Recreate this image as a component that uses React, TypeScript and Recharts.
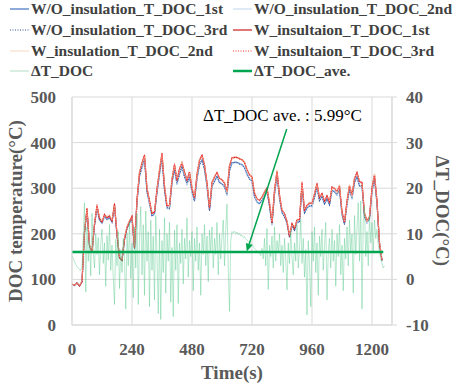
import React from 'react'
import { LineChart, Line, XAxis, YAxis, CartesianGrid, Legend, ReferenceLine } from 'recharts'

// temperature runs, one value every 10 s from t = 0 to 1240 s
const woRun1 = [
  90, 87, 92, 86, 95, 203, 251, 174, 160, 219,
  257, 231, 223, 238, 232, 236, 225, 260, 198, 148,
  142, 188, 212, 225, 234, 169, 270, 327, 346, 362,
  293, 266, 240, 243, 291, 331, 366, 297, 256, 256,
  312, 342, 309, 332, 346, 326, 309, 326, 292, 273,
  321, 352, 361, 342, 304, 252, 304, 316, 325, 313,
  309, 304, 285, 339, 355, 357, 356, 354, 351, 346,
  330, 321, 315, 282, 269, 267, 272, 284, 292, 261,
  220, 287, 328, 278, 246, 238, 223, 193, 218, 208,
  225, 227, 303, 246, 256, 262, 260, 281, 302, 273,
  281, 266, 276, 264, 294, 293, 285, 298, 242, 222,
  265, 298, 277, 313, 324, 306, 304, 239, 224, 234,
  293, 321, 266, 178, 141,
]
const woRun2 = [
  91, 86, 91, 87, 96, 205, 249, 176, 158, 221,
  255, 233, 222, 236, 234, 238, 224, 258, 200, 149,
  143, 190, 213, 227, 232, 171, 268, 329, 344, 360,
  295, 264, 242, 241, 293, 329, 364, 299, 254, 258,
  310, 344, 307, 334, 344, 328, 307, 328, 290, 275,
  319, 354, 359, 344, 302, 254, 302, 318, 323, 315,
  307, 306, 283, 341, 353, 359, 354, 356, 349, 348,
  328, 323, 313, 284, 267, 269, 270, 286, 290, 263,
  218, 289, 326, 280, 244, 240, 221, 195, 216, 210,
  223, 229, 301, 248, 254, 264, 258, 283, 300, 275,
  279, 268, 274, 266, 292, 295, 283, 300, 240, 224,
  263, 300, 275, 315, 322, 308, 302, 241, 222, 236,
  291, 323, 264, 180, 140,
]
const woRun3 = [
  89, 88, 93, 85, 94, 201, 253, 172, 161, 217,
  259, 229, 224, 240, 230, 234, 226, 262, 196, 147,
  141, 186, 211, 223, 236, 167, 272, 325, 348, 364,
  291, 268, 238, 245, 289, 333, 368, 295, 258, 254,
  314, 340, 311, 330, 348, 324, 311, 324, 294, 271,
  323, 350, 363, 340, 306, 250, 306, 314, 327, 311,
  311, 302, 287, 337, 357, 355, 358, 352, 353, 344,
  332, 319, 317, 280, 271, 265, 274, 282, 294, 259,
  222, 285, 330, 276, 248, 236, 225, 191, 220, 206,
  227, 225, 305, 244, 258, 260, 262, 279, 304, 271,
  283, 264, 278, 262, 296, 291, 287, 296, 244, 220,
  267, 296, 279, 311, 326, 304, 306, 237, 226, 232,
  295, 319, 268, 176, 142,
]
const wRun1 = [
  90, 87, 92, 86, 95, 205, 255, 175, 160, 222,
  262, 235, 226, 242, 236, 240, 228, 265, 200, 148,
  142, 190, 215, 228, 238, 170, 275, 335, 355, 372,
  300, 272, 245, 248, 298, 340, 376, 305, 262, 262,
  320, 352, 318, 342, 356, 335, 318, 335, 300, 280,
  330, 362, 372, 352, 312, 258, 312, 325, 334, 322,
  318, 312, 292, 350, 366, 368, 367, 365, 362, 357,
  340, 330, 324, 290, 276, 274, 280, 292, 300, 268,
  225, 295, 338, 285, 252, 244, 228, 196, 222, 212,
  230, 232, 312, 252, 262, 268, 266, 288, 310, 280,
  288, 272, 283, 270, 302, 300, 292, 306, 248, 226,
  272, 306, 284, 322, 334, 315, 312, 245, 228, 238,
  300, 330, 272, 180, 142,
]
const wRun2 = [
  91, 88, 91, 87, 97, 208, 253, 178, 158, 224,
  260, 237, 228, 240, 238, 242, 230, 263, 203, 150,
  144, 192, 216, 230, 236, 173, 272, 337, 353, 370,
  303, 270, 247, 250, 296, 342, 374, 308, 264, 260,
  322, 350, 320, 340, 358, 333, 320, 333, 302, 282,
  328, 364, 370, 354, 310, 260, 310, 327, 332, 324,
  316, 314, 290, 352, 364, 370, 365, 367, 360, 359,
  338, 332, 322, 292, 274, 276, 278, 294, 298, 270,
  228, 293, 340, 283, 254, 242, 230, 198, 220, 214,
  228, 234, 310, 254, 260, 270, 264, 290, 308, 282,
  286, 274, 281, 272, 300, 302, 290, 308, 246, 228,
  270, 308, 282, 324, 332, 317, 310, 247, 226, 240,
  298, 332, 270, 182, 144,
]
const wRun3 = [
  89, 88, 93, 85, 94, 202, 257, 173, 162, 220,
  264, 233, 225, 244, 234, 238, 227, 267, 198, 146,
  141, 188, 213, 226, 240, 168, 277, 333, 357, 374,
  298, 274, 243, 247, 300, 338, 378, 303, 260, 264,
  318, 354, 316, 344, 354, 337, 316, 337, 298, 278,
  332, 360, 374, 350, 314, 256, 314, 323, 336, 320,
  320, 310, 294, 348, 368, 366, 369, 363, 364, 355,
  342, 328, 326, 288, 278, 272, 282, 290, 302, 266,
  223, 297, 336, 287, 250, 246, 226, 194, 224, 210,
  232, 230, 314, 250, 264, 266, 268, 286, 312, 278,
  290, 270, 285, 268, 304, 298, 294, 304, 250, 224,
  274, 304, 286, 320, 336, 313, 314, 243, 230, 236,
  302, 328, 274, 178, 140,
]

// ΔT_DOC, one value every 5 s from t = 0 to 1250 s
const dtDoc = [
  5.2, 4.6, 3.9, 3.3, 2.8, 2.5, 2.2, 2.0, 2.8, 9.5, 16.8, -2.8, 11.5, 4.0, 8.5, 0.8, 14.5, 6.0, 2.5, 10.0,
  5.5, 9.2, 1.0, 7.8, 11.0, 3.5, 8.0, -1.5, 9.6, 4.2, 12.0, 2.0, 7.5, 0.5, -5.5, 8.8, 3.0, 10.5, -2.0, 6.5,
  1.5, 9.0, 4.5, -6.5, 10.2, 3.0, 12.5, 0.2, 8.0, -4.0, 11.5, 2.5, 14.5, -5.5, 9.0, 16.0, 1.0, 12.0, -3.5, 15.0,
  4.0, 10.5, -6.0, 13.0, 2.0, 9.5, -4.5, 14.0, 5.0, -7.5, 11.0, -8.8, 8.5, 1.5, 13.5, -3.0, 10.0, 4.0, 12.5, -5.0,
  7.0, -8.2, 10.8, 2.0, 12.0, -5.3, 8.0, 3.5, 11.0, -1.0, 9.0, 4.5, 13.5, 0.5, 8.5, 5.0, 10.5, -2.5, 9.0, 4.0,
  11.5, 2.0, 8.0, -3.5, 10.0, 5.5, 12.0, 3.0, 9.5, -0.5, 10.8, 6.0, 11.5, 2.5, 9.0, 5.5, 12.5, 1.0, 10.0, 4.5,
  9.5, 13.0, 3.0, 11.0, 16.5, 2.0, -7.0, 8.5, 10.5, 10.2, 10.6, 10.0, 10.4, 9.8, 10.1, 9.5, 9.7, 9.2, 9.4, 8.9,
  8.6, 8.3, 8.0, 7.6, 7.8, 7.2, 6.8, 6.5, 6.2, 6.0, 5.6, 5.2, 6.8, 4.5, 9.0, 3.0, 11.2, -2.2, 7.5, 5.0,
  9.5, 2.5, 11.5, 4.0, 8.5, 6.0, 10.0, 3.0, 7.5, 1.5, 9.0, 4.5, -2.3, 8.0, 3.5, 10.5, 5.0, 1.0, 8.0, 4.0,
  12.0, 2.5, 7.0, 13.0, 3.5, 9.0, 0.5, 6.5, -7.8, 8.5, 3.0, -6.0, 10.5, 4.0, 11.5, 1.5, 8.0, -3.5, 9.5, 5.0,
  11.0, 2.0, 7.5, 12.5, -4.5, 6.0, 9.0, 2.5, 11.0, 4.0, 8.5, -1.5, 10.0, 5.0, 12.0, 1.0, 7.5, -2.5, 9.0, 4.5,
  11.5, 3.0, 13.0, 6.0, 10.0, -3.0, 14.0, 5.5, 11.0, 16.8, 4.0, 17.2, -6.5, 12.5, 16.0, 5.0, 10.5, 3.0, 14.0, 8.0,
  12.5, 6.0, 13.0, 9.0, 11.0, 7.5, 6.0, 4.5, 3.5, 2.5, 3.0,
]
const dtAve = 5.99
const aveSpan = [0, 1245]

const timeTicks = [0, 240, 480, 720, 960, 1200]
const tempTicks = [0, 100, 200, 300, 400, 500]
const dtTicks = [-10, 0, 10, 20, 30, 40]

// arrow from the note down to the average line (time, temperature axis)
const arrowFrom = { t: 859, v: 430 }
const arrowTo = { t: 699, v: 161 }

const tempRows = wRun1.map((v, i) => ({
  t: i * 10,
  wo1: woRun1[i],
  wo2: woRun2[i],
  wo3: woRun3[i],
  w1: v,
  w2: wRun2[i],
  w3: wRun3[i],
}))
const dtRows = dtDoc.map((v, i) => ({ t: i * 5, dt: v }))
const aveRows = aveSpan.map((t) => ({ t, ave: dtAve }))

const serif = '"Liberation Serif", "Times New Roman", serif'
const grey = '#595959'
const gridColor = '#D9D9D9'
const green = '#00A550'

const tempSeries = [
  { key: 'wo1', name: 'W/O_insulation_T_DOC_1st', color: '#4472C4', width: 1.2 },
  { key: 'wo2', name: 'W/O_insulation_T_DOC_2nd', color: '#BDD7EE', width: 1 },
  { key: 'wo3', name: 'W/O_insulation_T_DOC_3rd', color: '#2F5597', width: 1, dash: '1 1.5' },
  { key: 'w1', name: 'W_insultaion_T_DOC_1st', color: '#C8201E', width: 1.2 },
  { key: 'w2', name: 'W_insulation_T_DOC_2nd', color: '#F8CBAD', width: 0.8 },
  { key: 'w3', name: 'W_insultaion_T_DOC_3rd', color: '#FF3030', width: 1, dash: '1 1.5' },
]

const legendItems = [
  ...tempSeries,
  { key: 'dt', name: 'ΔT_DOC', color: '#BFE3D0', width: 1.2 },
  { key: 'ave', name: 'ΔT_DOC_ave.', color: green, width: 2.5 },
]

const tickStyle = { fill: grey, fontSize: 17, fontWeight: 'bold', fontFamily: serif }

function renderLegend() {
  return (
    <div style={{ position: 'relative', width: 457, height: 84, fontFamily: serif, fontWeight: 'bold', fontSize: 15.5, color: '#404040' }}>
      {legendItems.map((it: any, i) => {
        const col = i % 2
        const row = Math.floor(i / 2)
        return (
          <div
            key={it.key}
            style={{ position: 'absolute', left: col ? 233 : 10, top: row * 20.8 - 1, height: 20, display: 'flex', alignItems: 'center', whiteSpace: 'nowrap' }}
          >
            <svg width={19} height={6}>
              <line x1={0} y1={3} x2={19} y2={3} stroke={it.color} strokeWidth={it.width} strokeDasharray={it.dash} />
            </svg>
            <span style={{ marginLeft: 2 }}>{it.name}</span>
          </div>
        )
      })}
    </div>
  )
}

function ArrowShape(props: any) {
  const { x1, y1, x2, y2 } = props
  const ang = Math.atan2(y2 - y1, x2 - x1)
  const len = 8
  const half = 3.5
  const bx = x2 - len * Math.cos(ang)
  const by = y2 - len * Math.sin(ang)
  const px = -Math.sin(ang) * half
  const py = Math.cos(ang) * half
  return (
    <g>
      <line x1={x1} y1={y1} x2={bx} y2={by} stroke={green} strokeWidth={1.5} />
      <polygon points={`${x2},${y2} ${bx + px},${by + py} ${bx - px},${by - py}`} fill={green} />
    </g>
  )
}

const leftTitle = (props: any) => {
  const { x, y, height } = props.viewBox
  const cx = x + 3
  const cy = y + height / 2
  return (
    <text x={cx} y={cy} transform={`rotate(-90 ${cx} ${cy})`} textAnchor="middle" dominantBaseline="central" fill={grey} fontSize={19} fontWeight="bold" fontFamily={serif}>
      DOC temperature(°C)
    </text>
  )
}

const rightTitle = (props: any) => {
  const { x, y, height } = props.viewBox
  const cx = x + 50
  const cy = y + height / 2
  return (
    <text x={cx} y={cy} transform={`rotate(90 ${cx} ${cy})`} textAnchor="middle" dominantBaseline="central" fill={grey} fontSize={19} fontWeight="bold" fontFamily={serif}>
      ΔT_DOC(°C)
    </text>
  )
}

const bottomTitle = (props: any) => {
  const { x, y, width } = props.viewBox
  return (
    <text x={x + width / 2} y={y + 54} textAnchor="middle" fill={grey} fontSize={19} fontWeight="bold" fontFamily={serif}>
      Time(s)
    </text>
  )
}

export default function App() {
  return (
    <div style={{ position: 'absolute', left: 0, top: 0, width: 457, height: 385, background: '#fff' }}>
      <LineChart width={457} height={385} data={tempRows} margin={{ top: 13, right: 12, bottom: 0, left: 12 }}>
        <CartesianGrid yAxisId="left" stroke={gridColor} ticks={timeTicks} />
        <XAxis
          dataKey="t"
          type="number"
          domain={[0, 1280]}
          ticks={timeTicks}
          allowDataOverflow
          height={60}
          tick={tickStyle}
          tickLine={false}
          tickSize={0}
          tickMargin={18}
          axisLine={{ stroke: gridColor }}
          label={bottomTitle}
        />
        <YAxis
          yAxisId="left"
          orientation="left"
          width={60}
          domain={[0, 500]}
          ticks={tempTicks}
          tick={tickStyle}
          tickLine={false}
          tickSize={0}
          tickMargin={16}
          axisLine={{ stroke: gridColor }}
          label={leftTitle}
        />
        <YAxis
          yAxisId="right"
          orientation="right"
          width={53}
          domain={[-10, 40]}
          ticks={dtTicks}
          tick={tickStyle}
          tickLine={{ stroke: gridColor }}
          tickSize={5}
          tickMargin={9}
          axisLine={{ stroke: gridColor }}
          label={rightTitle}
        />
        <Legend verticalAlign="top" align="left" content={renderLegend} wrapperStyle={{ left: 0, top: 0, width: 457, height: 84 }} />
        {tempSeries.map((s) => (
          <Line
            key={s.key}
            yAxisId="left"
            type="linear"
            dataKey={s.key}
            name={s.name}
            stroke={s.color}
            strokeWidth={s.width}
            strokeDasharray={s.dash}
            dot={false}
            activeDot={false}
            isAnimationActive={false}
          />
        ))}
        <Line
          yAxisId="right"
          data={dtRows}
          type="linear"
          dataKey="dt"
          name="ΔT_DOC"
          stroke="#4CC584"
          strokeOpacity={0.5}
          strokeWidth={0.8}
          dot={false}
          activeDot={false}
          isAnimationActive={false}
        />
        <Line
          yAxisId="right"
          data={aveRows}
          type="linear"
          dataKey="ave"
          name="ΔT_DOC_ave."
          stroke={green}
          strokeWidth={2.5}
          dot={false}
          activeDot={false}
          isAnimationActive={false}
        />
        <ReferenceLine
          yAxisId="left"
          segment={[{ x: arrowFrom.t, y: arrowFrom.v }, { x: arrowTo.t, y: arrowTo.v }]}
          ifOverflow="visible"
          shape={ArrowShape}
        />
      </LineChart>
      <div style={{ position: 'absolute', left: 203, top: 107, fontFamily: serif, fontSize: 17, lineHeight: '17px', color: '#000', whiteSpace: 'nowrap' }}>
        ΔT_DOC ave. : 5.99°C
      </div>
    </div>
  )
}
